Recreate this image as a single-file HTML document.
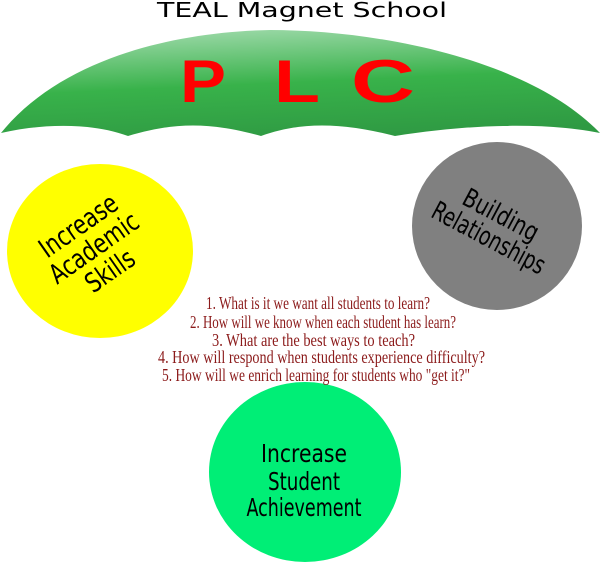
<!DOCTYPE html>
<html><head><meta charset="utf-8"><style>html,body{margin:0;padding:0;background:#fff}svg{display:block}</style></head>
<body>
<svg width="600" height="576" viewBox="0 0 600 576" xmlns="http://www.w3.org/2000/svg">
<defs>
<linearGradient id="g" x1="0.35" y1="0" x2="0.6" y2="1">
<stop offset="0" stop-color="#9ad8a6"/>
<stop offset="0.5" stop-color="#38b24a"/>
<stop offset="1" stop-color="#2f9a43"/>
</linearGradient>
</defs>
<text x="302" y="17" font-family="DejaVu Sans, sans-serif" font-size="20" text-anchor="middle" textLength="290" lengthAdjust="spacingAndGlyphs">TEAL Magnet School</text>
<path d="M1,133 C60,60 170,32 270,30 C380,30 530,60 600,133 C545,122 470,124 395,136 C340,122 300,122 261,136 C210,122 175,122 128,136 C90,122 40,124 1,133 Z" fill="url(#g)"/>
<g font-family="Liberation Sans, sans-serif" font-weight="bold" font-size="60" fill="#ff0000">
<text x="180" y="102" textLength="46" lengthAdjust="spacingAndGlyphs">P</text>
<text x="274" y="102" textLength="46" lengthAdjust="spacingAndGlyphs">L</text>
<text x="351" y="102" textLength="64" lengthAdjust="spacingAndGlyphs">C</text>
</g>
<ellipse cx="100" cy="251" rx="93" ry="87" fill="#ffff00"/>
<ellipse cx="497" cy="226" rx="85" ry="84" fill="#808080"/>
<ellipse cx="305" cy="472" rx="96" ry="90" fill="#00ee76"/>
<g font-family="DejaVu Sans, sans-serif" font-size="27" text-anchor="middle" transform="translate(94,248) rotate(-35)">
<text x="0" y="-18" transform="scale(0.78,1)">Increase</text>
<text x="0" y="9" transform="scale(0.78,1)">Academic</text>
<text x="0" y="37" transform="scale(0.78,1)">Skills</text>
</g>
<g font-family="DejaVu Sans, sans-serif" font-size="26" text-anchor="middle" transform="translate(494,228) rotate(28)">
<text x="0" y="-6" transform="scale(0.78,1)">Building</text>
<text x="0" y="20" transform="scale(0.72,1)">Relationships</text>
</g>
<g font-family="DejaVu Sans, sans-serif" font-size="25" text-anchor="middle">
<text x="304" y="462" textLength="86" lengthAdjust="spacingAndGlyphs">Increase</text>
<text x="304" y="490" textLength="72" lengthAdjust="spacingAndGlyphs">Student</text>
<text x="304" y="516" textLength="115" lengthAdjust="spacingAndGlyphs">Achievement</text>
</g>
<g font-family="Liberation Serif, serif" font-size="18" fill="#8b1a1a">
<text x="206" y="309" textLength="224" lengthAdjust="spacingAndGlyphs">1. What is it we want all students to learn?</text>
<text x="190" y="328" textLength="266" lengthAdjust="spacingAndGlyphs">2. How will we know when each student has learn?</text>
<text x="212" y="346" textLength="203" lengthAdjust="spacingAndGlyphs">3. What are the best ways to teach?</text>
<text x="158" y="363" textLength="327" lengthAdjust="spacingAndGlyphs">4. How will respond when students experience difficulty?</text>
<text x="162" y="381" textLength="308" lengthAdjust="spacingAndGlyphs">5. How will we enrich learning for students who "get it?"</text>
</g>
</svg>
</body></html>
